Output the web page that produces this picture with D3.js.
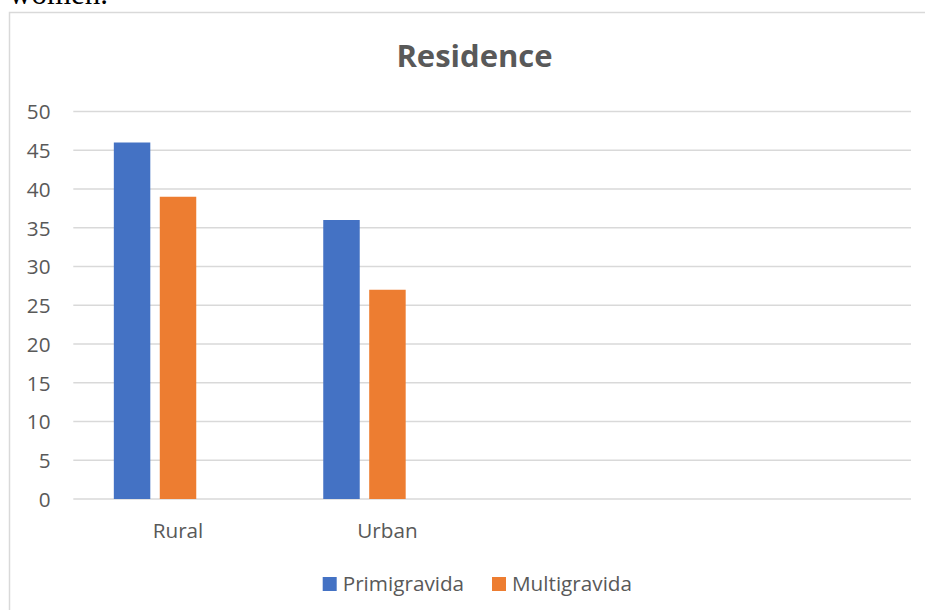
<!DOCTYPE html>
<html>
<head>
<meta charset="utf-8">
<script src="https://cdn.jsdelivr.net/npm/d3@7"></script>
<style>
  html, body { margin: 0; padding: 0; background: #fff; overflow: hidden; }
  svg { display: block; }
</style>
</head>
<body>
<svg id="chart" width="925" height="610"></svg>
<script>
const categories = ["Rural", "Urban", "", ""];
const seriesNames = ["Primigravida", "Multigravida"];
const primigravida = [46, 36, null, null];
const multigravida = [39, 27, null, null];
const yTicks = [0, 5, 10, 15, 20, 25, 30, 35, 40, 45, 50];
const colors = ["#4472C4", "#ED7D31"];
const slotsPerCategory = 3;

const svg = d3.select("#chart");
const font = "'Open Sans', sans-serif";
const textColor = "#595959";
const fs = 20.7;

// text above chart (cropped)
svg.append("text").attr("x", 9).attr("y", 4)
  .attr("font-family", "'Liberation Serif', serif").attr("font-size", 31)
  .attr("fill", "#000").text("women.");

// chart border
svg.append("path").attr("d", "M9.5,610 V12.5 H925")
  .attr("fill", "none").attr("stroke", "#D9D9D9").attr("stroke-width", 1.5);

// title
svg.append("text").attr("x", 474.5).attr("y", 67.3).attr("text-anchor", "middle")
  .attr("font-family", font).attr("font-weight", "bold").attr("font-size", 31)
  .attr("fill", textColor).text("Residence");

const y = d3.scaleLinear().domain([0, 50]).range([499, 111.5]);
const x0 = d3.scaleBand().domain(d3.range(categories.length)).range([73.3, 911]).padding(0);
const bw = x0.bandwidth();
const x1 = d3.scaleBand().domain(d3.range(slotsPerCategory)).range([bw * 0.1935, bw * 0.8065]).paddingInner(0.206).paddingOuter(0);

// gridlines
svg.append("g").selectAll("line").data(yTicks).join("line")
  .attr("x1", 73.3).attr("x2", 911)
  .attr("y1", d => y(d)).attr("y2", d => y(d))
  .attr("stroke", "#D9D9D9").attr("stroke-width", 1.3);

// y axis labels
const yAxis = d3.axisLeft(y).tickValues(yTicks).tickSize(0).tickPadding(0);
const ya = svg.append("g").attr("transform", "translate(50.5,0)").call(yAxis);
ya.select(".domain").remove();
ya.selectAll("text").attr("font-family", font).attr("font-size", fs).attr("fill", textColor)
  .attr("dy", "0.36em");

// x axis labels
const xAxis = d3.axisBottom(x0).tickFormat(i => categories[i]).tickSize(0).tickPadding(0);
const xa = svg.append("g").attr("transform", "translate(0,538)").call(xAxis);
xa.select(".domain").remove();
xa.selectAll("text").attr("font-family", font).attr("font-size", fs).attr("fill", textColor).attr("dy", 0);

// bars
const series = [primigravida, multigravida];
series.forEach((vals, s) => {
  svg.append("g").selectAll("rect")
    .data(vals.map((v, i) => ({ v, i })).filter(d => d.v != null))
    .join("rect")
    .attr("x", d => x0(d.i) + x1(s))
    .attr("width", x1.bandwidth())
    .attr("y", d => y(d.v))
    .attr("height", d => y(0) - y(d.v))
    .attr("fill", colors[s]);
});

// legend
const legendX = [322.7, 492];
seriesNames.forEach((name, s) => {
  const g = svg.append("g").attr("transform", `translate(${legendX[s]},0)`);
  g.append("rect").attr("x", 0).attr("y", 577).attr("width", 14).attr("height", 14).attr("fill", colors[s]);
  g.append("text").attr("x", 20).attr("y", 591).attr("font-family", font).attr("font-size", fs)
    .attr("fill", textColor).text(name);
});
</script>
</body>
</html>
